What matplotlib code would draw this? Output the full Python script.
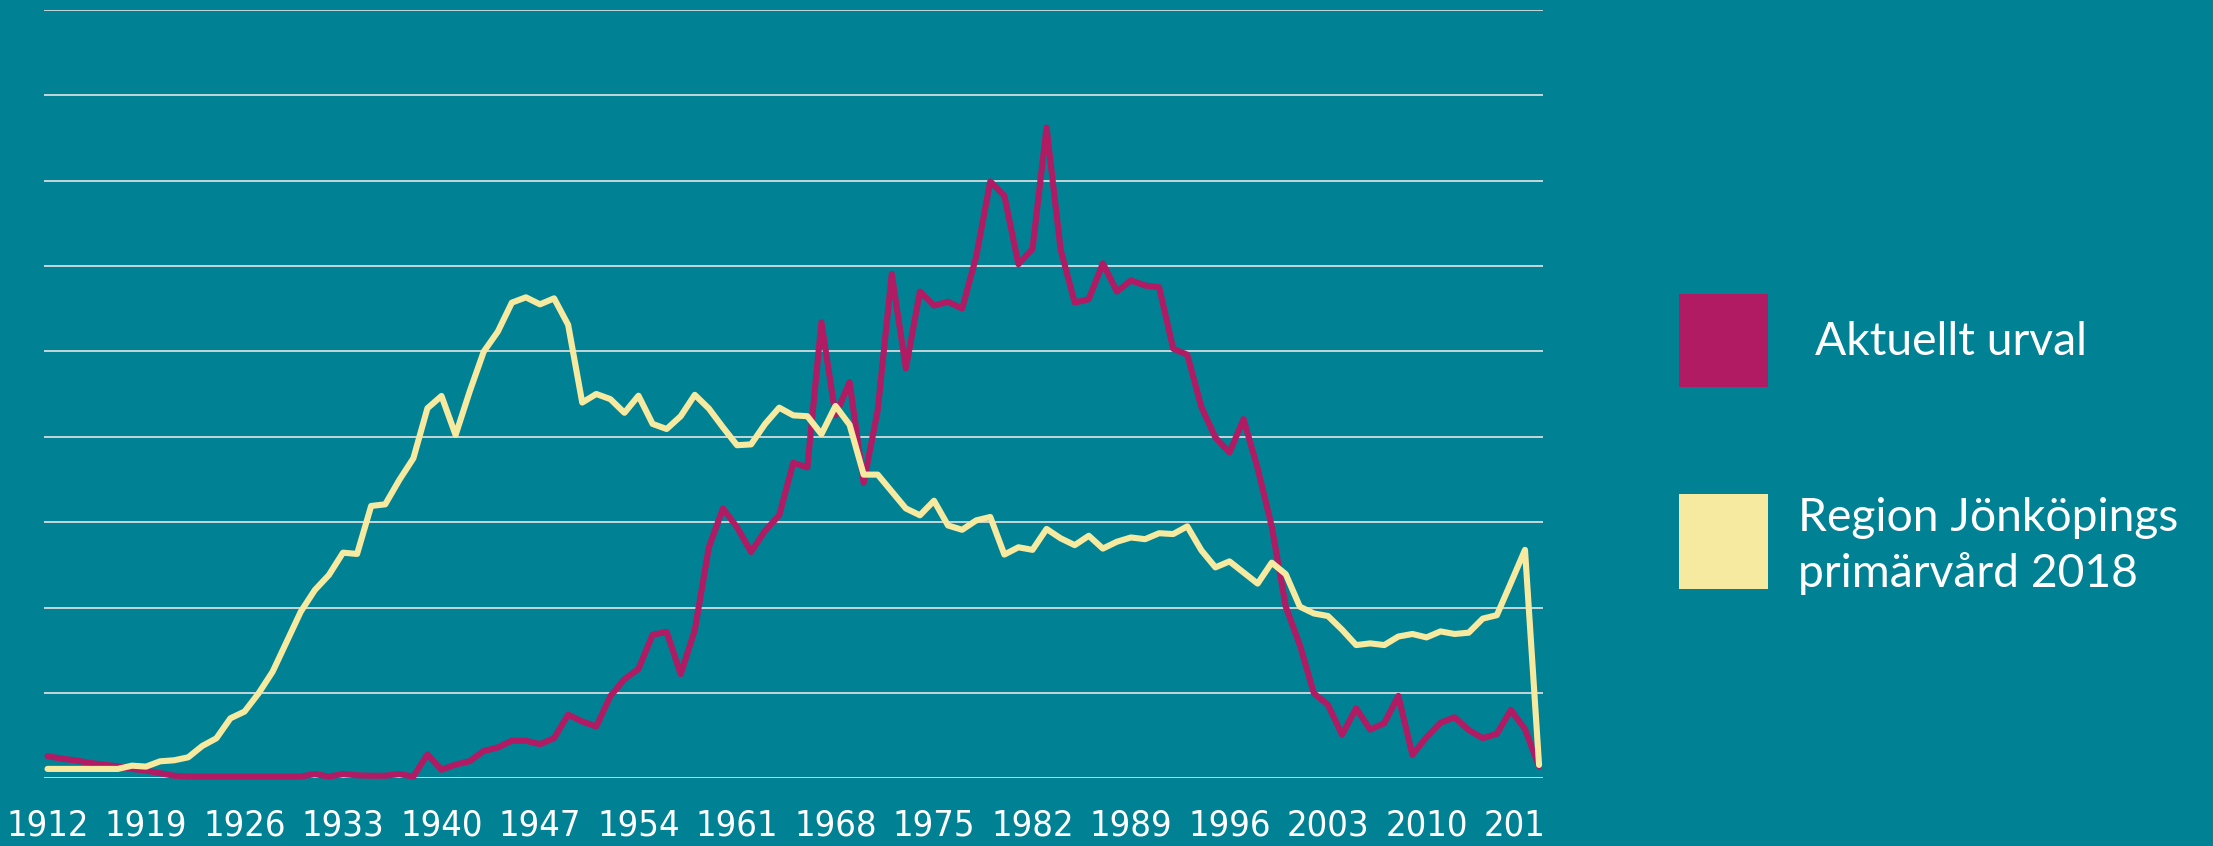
import matplotlib
matplotlib.use("Agg")
import matplotlib.pyplot as plt
from matplotlib import font_manager
from matplotlib.patches import Rectangle
from matplotlib.transforms import Bbox, TransformedBbox

# ---------------- data ----------------
years = list(range(1912, 2019))

aktuellt_urval = [
    0.26, 0.23, 0.21, 0.18, 0.16, 0.14, 0.11, 0.09, 0.06, 0.03,   # 1912-1921
    0.02, 0.02, 0.02, 0.02, 0.02, 0.02, 0.02, 0.02, 0.02, 0.05,   # 1922-1931
    0.02, 0.05, 0.035, 0.03, 0.03, 0.05, 0.02, 0.28, 0.10, 0.16,  # 1932-1941
    0.20, 0.32, 0.36, 0.44, 0.44, 0.40, 0.47, 0.745, 0.665, 0.606,  # 1942-1951
    0.962, 1.16, 1.28, 1.68, 1.715, 1.22, 1.735, 2.705, 3.16, 2.94,  # 1952-1961
    2.65, 2.90, 3.08, 3.695, 3.64, 5.34, 4.25, 4.64, 3.46, 4.31,    # 1962-1971
    5.905, 4.80, 5.70, 5.535, 5.58, 5.50, 6.11, 6.99, 6.82, 6.02,   # 1972-1981
    6.20, 7.62, 6.19, 5.57, 5.61, 6.03, 5.70, 5.83, 5.77, 5.75,     # 1982-1991
    5.03, 4.96, 4.35, 3.99, 3.815, 4.205, 3.63, 2.95, 2.01, 1.56,   # 1992-2001
    0.995, 0.86, 0.51, 0.82, 0.57, 0.645, 0.965, 0.275, 0.48, 0.65,  # 2002-2011
    0.715, 0.565, 0.47, 0.52, 0.80, 0.575, 0.14,                     # 2012-2018
]

region_jkpg = [
    0.11, 0.11, 0.11, 0.11, 0.11, 0.11, 0.148, 0.137, 0.199, 0.211,  # 1912-1921
    0.246, 0.379, 0.468, 0.703, 0.781, 0.995, 1.249, 1.60, 1.952, 2.205,  # 1922-1931
    2.381, 2.642, 2.627, 3.189, 3.208, 3.493, 3.747, 4.333, 4.477, 4.02,  # 1932-1941
    4.528, 4.996, 5.23, 5.57, 5.632, 5.55, 5.62, 5.31, 4.40, 4.50,   # 1942-1951
    4.44, 4.28, 4.48, 4.15, 4.09, 4.24, 4.49, 4.33, 4.11, 3.90,      # 1952-1961
    3.91, 4.15, 4.34, 4.25, 4.24, 4.03, 4.36, 4.14, 3.556, 3.556,    # 1962-1971
    3.358, 3.16, 3.08, 3.25, 2.96, 2.91, 3.02, 3.06, 2.62, 2.705,    # 1972-1981
    2.675, 2.92, 2.81, 2.73, 2.84, 2.69, 2.77, 2.82, 2.80, 2.87,     # 1982-1991
    2.86, 2.95, 2.67, 2.47, 2.54, 2.41, 2.28, 2.525, 2.39, 2.01,     # 1992-2001
    1.93, 1.90, 1.74, 1.56, 1.58, 1.56, 1.66, 1.69, 1.65, 1.72,      # 2002-2011
    1.69, 1.705, 1.87, 1.91, 2.29, 2.675, 0.156,                     # 2012-2018
]

tick_years = list(range(1912, 2018, 7))
series_labels = ["Aktuellt urval", "Region Jönköpings\nprimärvård 2018"]
grid_levels = list(range(0, 10))

# ---------------- style ----------------
BG = "#008194"
MAG = "#B01B63"
YEL = "#F6E9A0"
GRID = "#D4DDDF"

W, H = 2213, 846
fig = plt.figure(figsize=(W / 100, H / 100), dpi=100, facecolor=BG)

ax_left, ax_right = 44, 1543
ax_top, ax_bottom = 9.7, 778.3
ax = fig.add_axes([ax_left / W, 1 - ax_bottom / H,
                   (ax_right - ax_left) / W, (ax_bottom - ax_top) / H])
ax.set_facecolor(BG)
ax.set_xlim(1911.75, 2018.28)
ax.set_ylim(0, 9)
ax.set_yticks(grid_levels)
ax.yaxis.grid(True, color=GRID, linewidth=1.3)
ax.set_axisbelow(True)
for s in ax.spines.values():
    s.set_visible(False)

ax.plot(years, aktuellt_urval, color=MAG, lw=4.4, solid_joinstyle="round",
        solid_capstyle="round", clip_on=False, zorder=3)
ax.plot(years, region_jkpg, color=YEL, lw=4.4, solid_joinstyle="round",
        solid_capstyle="round", clip_on=False, zorder=4)

# tick label font: prefer a narrow face
ttf = font_manager.fontManager.ttflist
names = {f.name for f in ttf}
if "Liberation Sans Narrow" in names:
    tick_fp = font_manager.FontProperties(family="Liberation Sans Narrow", size=30)
elif any(f.name == "DejaVu Sans" and f.stretch == "condensed" for f in ttf):
    tick_fp = font_manager.FontProperties(family="DejaVu Sans", stretch="condensed", size=26)
else:
    tick_fp = font_manager.FontProperties(family="Lato", size=25)

ax.set_xticks(tick_years)
ax.set_xticklabels([str(y) for y in tick_years], fontproperties=tick_fp, color="white")
ax.tick_params(axis="x", length=0, pad=22)
ax.tick_params(axis="y", length=0, labelleft=False)

clip_bb = TransformedBbox(Bbox([[0, 0], [ax_right / W, 1]]), fig.transFigure)
for t in ax.xaxis.get_major_ticks():
    t.label1.set_clip_box(clip_bb)
    t.label1.set_clip_on(True)

# ---------------- legend ----------------
leg_font = "Lato"
fig.patches.append(Rectangle((1679 / W, 1 - 386.7 / H), 89 / W, 93 / H,
                             transform=fig.transFigure, facecolor=MAG, edgecolor="none"))
fig.patches.append(Rectangle((1679 / W, 1 - 588.5 / H), 89 / W, 94.5 / H,
                             transform=fig.transFigure, facecolor=YEL, edgecolor="none"))
fig.text(1815 / W, 1 - 341.5 / H, series_labels[0], color="white", fontsize=33.3,
         family=leg_font, ha="left", va="center")
fig.text(1798 / W, 1 - 546 / H, series_labels[1], color="white", fontsize=33.3,
         family=leg_font, ha="left", va="center", linespacing=1.37)

fig.savefig("out.png", dpi=100, facecolor=BG)
